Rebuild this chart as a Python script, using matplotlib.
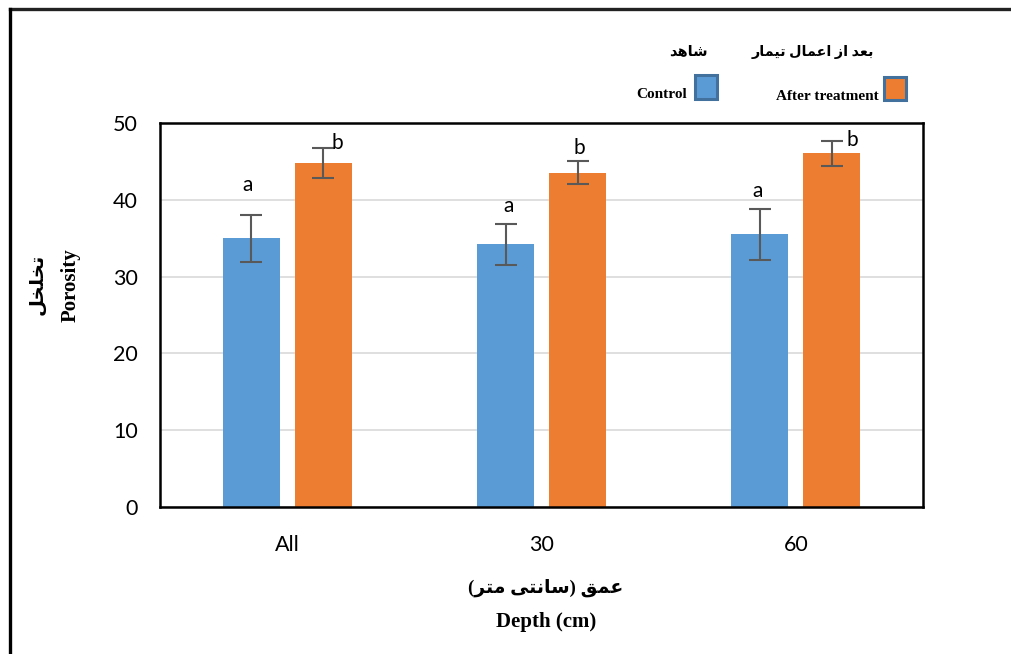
import numpy as np
import matplotlib
matplotlib.use("Agg")
from matplotlib import pyplot as plt
from matplotlib.patches import Rectangle
from matplotlib.lines import Line2D

# data
depths = ["All", "30", "60"]
control = [35.0, 34.2, 35.5]
control_err = [3.05, 2.7, 3.3]
treated = [44.8, 43.5, 46.05]
treated_err = [2.0, 1.5, 1.63]
control_letters = ["a", "a", "a"]
treated_letters = ["b", "b", "b"]
y_ticks = [0, 10, 20, 30, 40, 50]

# letter label offsets (points) from top of error bar
a_off = [(-2.5, 21.5), (2, 13), (-2, 13)]
b_off = [(10, 3.5), (1, 9.5), (15, 0.5)]

BLUE = "#5B9BD5"
ORANGE = "#ED7D31"

# --- simple Persian shaping (matplotlib has no complex text layout) ---
FORMS = {
    "\u0627": ("\uFE8D", "\uFE8E"),
    "\u0628": ("\uFE8F", "\uFE90", "\uFE91", "\uFE92"),
    "\u062A": ("\uFE95", "\uFE96", "\uFE97", "\uFE98"),
    "\u062E": ("\uFEA5", "\uFEA6", "\uFEA7", "\uFEA8"),
    "\u062F": ("\uFEA9", "\uFEAA"),
    "\u0631": ("\uFEAD", "\uFEAE"),
    "\u0632": ("\uFEAF", "\uFEB0"),
    "\u0633": ("\uFEB1", "\uFEB2", "\uFEB3", "\uFEB4"),
    "\u0634": ("\uFEB5", "\uFEB6", "\uFEB7", "\uFEB8"),
    "\u0639": ("\uFEC9", "\uFECA", "\uFECB", "\uFECC"),
    "\u0642": ("\uFED5", "\uFED6", "\uFED7", "\uFED8"),
    "\u0644": ("\uFEDD", "\uFEDE", "\uFEDF", "\uFEE0"),
    "\u0645": ("\uFEE1", "\uFEE2", "\uFEE3", "\uFEE4"),
    "\u0646": ("\uFEE5", "\uFEE6", "\uFEE7", "\uFEE8"),
    "\u0647": ("\uFEE9", "\uFEEA", "\uFEEB", "\uFEEC"),
    "\u06CC": ("\uFBFC", "\uFBFD", "\uFBFE", "\uFBFF"),
}
MIRROR = {"(": ")", ")": "("}


def fa(text):
    out = []
    for i, ch in enumerate(text):
        if ch not in FORMS:
            out.append(MIRROR.get(ch, ch))
            continue
        prev = text[i - 1] if i > 0 else ""
        nxt = text[i + 1] if i + 1 < len(text) else ""
        joins_prev = prev in FORMS and len(FORMS[prev]) == 4
        joins_next = nxt in FORMS and len(FORMS[ch]) == 4
        f = FORMS[ch]
        if joins_prev and joins_next:
            out.append(f[3])
        elif joins_prev:
            out.append(f[1])
        elif joins_next:
            out.append(f[2])
        else:
            out.append(f[0])
    return "".join(reversed(out))


SERIF = ["Liberation Serif", "DejaVu Sans"]
plt.rcParams["font.family"] = ["Lato", "DejaVu Sans"]

fig = plt.figure(figsize=(10.11, 6.54), dpi=100)
ax = fig.add_axes([0.1583, 0.2248, 0.7547, 0.5871])

x = np.arange(len(depths))
w = 0.224
off = 0.1416
err_kw = dict(ecolor="#595959", elinewidth=1.5, capsize=8, capthick=1.5)
ax.bar(x - off, control, w, color=BLUE, yerr=control_err, error_kw=err_kw, zorder=2)
ax.bar(x + off, treated, w, color=ORANGE, yerr=treated_err, error_kw=err_kw, zorder=2)

for i in range(len(depths)):
    ax.annotate(control_letters[i], (x[i] - off, control[i] + control_err[i]),
                xytext=a_off[i], textcoords="offset points",
                ha="center", va="center", fontsize=15)
    ax.annotate(treated_letters[i], (x[i] + off, treated[i] + treated_err[i]),
                xytext=b_off[i], textcoords="offset points",
                ha="center", va="center", fontsize=15)

ax.set_xlim(-0.5, len(depths) - 0.5)
ax.set_ylim(0, 50)
ax.set_yticks(y_ticks)
ax.set_xticks(x)
ax.set_xticklabels(depths)
ax.yaxis.grid(True, color="#D9D9D9", linewidth=1.2, zorder=0)
ax.set_axisbelow(True)
ax.tick_params(axis="both", length=0, labelsize=15.5)
ax.tick_params(axis="y", pad=16)
ax.tick_params(axis="x", pad=20)
for s in ax.spines.values():
    s.set_linewidth(1.8)
    s.set_color("black")

# axis titles
fig.text(37 / 1011, 1 - 284 / 654, fa("تخلخل"), rotation=90, ha="center", va="center",
         fontsize=14, fontweight="bold", family=SERIF)
fig.text(71 / 1011, 1 - 285 / 654, "Porosity", rotation=90, ha="center", va="center",
         fontsize=15, fontweight="bold", family=SERIF)
fig.text(546 / 1011, 1 - 588 / 654, fa("عمق (سانتی متر)"), ha="center", va="center",
         fontsize=13.5, fontweight="bold", family=SERIF)
fig.text(546 / 1011, 1 - 622 / 654, "Depth (cm)", ha="center", va="center",
         fontsize=15, fontweight="bold", family=SERIF)

# legend drawn by hand
fig.text(688 / 1011, 1 - 52 / 654, fa("شاهد"), ha="center", va="center",
         fontsize=10.5, fontweight="bold", family=SERIF)
fig.text(813 / 1011, 1 - 52 / 654, fa("بعد از اعمال تیمار"), ha="center", va="center",
         fontsize=10.3, fontweight="bold", family=SERIF)
fig.text(687 / 1011, 1 - 95 / 654, "Control", ha="right", va="center",
         fontsize=11, fontweight="bold", family=SERIF)
fig.text(879 / 1011, 1 - 96 / 654, "After treatment", ha="right", va="center",
         fontsize=11, fontweight="bold", family=SERIF)
fig.patches.append(Rectangle((695 / 1011, 1 - 99 / 654), 22 / 1011, 24 / 654,
                             transform=fig.transFigure, facecolor=BLUE,
                             edgecolor="#41719C", linewidth=2.2))
fig.patches.append(Rectangle((884 / 1011, 1 - 100 / 654), 22 / 1011, 23 / 654,
                             transform=fig.transFigure, facecolor=ORANGE,
                             edgecolor="#41719C", linewidth=2.2))

# outer frame (top and left only)
fig.add_artist(Line2D([10 / 1011, 1], [1 - 9 / 654, 1 - 9 / 654], color="#222222",
                      linewidth=2.4, transform=fig.transFigure))
fig.add_artist(Line2D([10 / 1011, 10 / 1011], [0, 1 - 9 / 654], color="black",
                      linewidth=2.4, transform=fig.transFigure))

fig.savefig("out.png", dpi=100)
